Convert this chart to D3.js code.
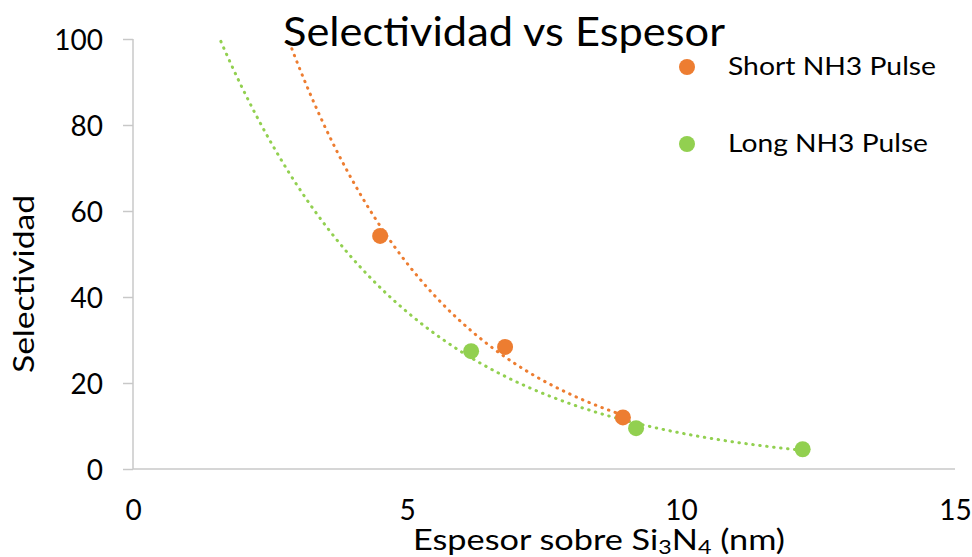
<!DOCTYPE html>
<html>
<head>
<meta charset="utf-8">
<script src="https://cdn.jsdelivr.net/npm/d3@7"></script>
<style>
  html, body { margin: 0; padding: 0; background: #fff; }
  svg { display: block; font-family: Lato, "Open Sans", "Noto Sans", sans-serif; }
</style>
</head>
<body>
<svg id="chart" width="972" height="557"></svg>
<script>
// ---- data ----
const seriesNames = ["Short NH3 Pulse", "Long NH3 Pulse"];
const shortX = [4.51, 6.79, 8.94];
const shortY = [54.2, 28.4, 12.0];
const longX = [6.17, 9.18, 12.22];
const longY = [27.4, 9.5, 4.6];
const xTicks = [0, 5, 10, 15];
const yTicks = [0, 20, 40, 60, 80, 100];
// trendline backward forecast (x units)
const shortBackward = 2;
const longBackward = 5;

const colors = ["#ED7D31", "#92D050"];

const svg = d3.select("#chart");
const m = { left: 133, right: 955, top: 39, bottom: 469 };

const x = d3.scaleLinear().domain([0, 15]).range([m.left, m.right]);
const y = d3.scaleLinear().domain([0, 100]).range([m.bottom, m.top]);

// clip
svg.append("defs").append("clipPath").attr("id", "plotclip")
  .append("rect").attr("x", m.left).attr("y", m.top)
  .attr("width", m.right - m.left).attr("height", m.bottom - m.top);

// axes
const axisColor = "#c8c8c8";
const yAxis = svg.append("g").attr("transform", `translate(${m.left},0)`)
  .call(d3.axisLeft(y).tickValues(yTicks).tickSize(10).tickPadding(20));
yAxis.select(".domain").attr("stroke", axisColor).attr("stroke-width", 1.5)
  .attr("d", `M0,${m.top}V${m.bottom}`);
yAxis.selectAll(".tick line").attr("stroke", axisColor).attr("stroke-width", 1.5);
yAxis.selectAll(".tick text").attr("fill", "#000").attr("font-size", 28)
  .attr("font-family", "Lato, 'Open Sans', sans-serif").attr("dy", "0.36em");

const xAxis = svg.append("g").attr("transform", `translate(0,${m.bottom})`)
  .call(d3.axisBottom(x).tickValues(xTicks).tickSize(0).tickPadding(31));
xAxis.select(".domain").attr("stroke", axisColor).attr("stroke-width", 1.5)
  .attr("d", `M${m.left},0H${m.right}`);
xAxis.selectAll(".tick text").attr("fill", "#000").attr("font-size", 28)
  .attr("font-family", "Lato, 'Open Sans', sans-serif");

// exponential trendline fit (least squares on ln y)
function expFit(xs, ys) {
  const n = xs.length;
  const ly = ys.map(Math.log);
  const mx = d3.mean(xs), my = d3.mean(ly);
  let sxy = 0, sxx = 0;
  for (let i = 0; i < n; i++) { sxy += (xs[i] - mx) * (ly[i] - my); sxx += (xs[i] - mx) ** 2; }
  const b = sxy / sxx;
  const a = Math.exp(my - b * mx);
  return v => a * Math.exp(b * v);
}

const series = [
  { name: seriesNames[0], xs: shortX, ys: shortY, color: colors[0], back: shortBackward },
  { name: seriesNames[1], xs: longX, ys: longY, color: colors[1], back: longBackward }
];

const line = d3.line().x(d => x(d[0])).y(d => y(d[1]));
const plot = svg.append("g").attr("clip-path", "url(#plotclip)");

series.forEach(s => {
  const f = expFit(s.xs, s.ys);
  const x0 = d3.min(s.xs) - s.back, x1 = d3.max(s.xs);
  const pts = d3.range(0, 301).map(i => { const v = x0 + (x1 - x0) * i / 300; return [v, f(v)]; });
  plot.append("path").datum(pts).attr("d", line)
    .attr("fill", "none").attr("stroke", s.color).attr("stroke-width", 3)
    .attr("stroke-linecap", "round").attr("stroke-dasharray", "0.5 6.5");
});

series.forEach(s => {
  svg.append("g").selectAll("circle").data(s.xs.map((v, i) => [v, s.ys[i]]))
    .join("circle").attr("cx", d => x(d[0])).attr("cy", d => y(d[1]))
    .attr("r", 8).attr("fill", s.color);
});

// title
svg.append("text").attr("x", 283).attr("y", 46).attr("font-size", 41)
  .attr("textLength", 442).attr("lengthAdjust", "spacingAndGlyphs")
  .text("Selectividad vs Espesor");

// legend
const legendY = [67, 144];
series.forEach((s, i) => {
  svg.append("circle").attr("cx", 687).attr("cy", legendY[i]).attr("r", 8).attr("fill", s.color);
  svg.append("text").attr("x", 728).attr("y", legendY[i] + 8).attr("font-size", 25.5)
    .attr("textLength", i === 0 ? 208 : 200).attr("lengthAdjust", "spacingAndGlyphs")
    .text(s.name);
});

// axis titles
svg.append("text").attr("transform", "translate(34,284) rotate(-90)")
  .attr("text-anchor", "middle").attr("font-size", 28)
  .attr("textLength", 178).attr("lengthAdjust", "spacingAndGlyphs")
  .text("Selectividad");

const xl = svg.append("text").attr("x", 413).attr("y", 550).attr("font-size", 28)
  .attr("textLength", 372).attr("lengthAdjust", "spacingAndGlyphs");
xl.append("tspan").text("Espesor sobre Si");
xl.append("tspan").attr("font-size", 19).attr("dy", 4).text("3");
xl.append("tspan").attr("dy", -4).text("N");
xl.append("tspan").attr("font-size", 19).attr("dy", 4).text("4");
xl.append("tspan").attr("dy", -4).text(" (nm)");
</script>
</body>
</html>
